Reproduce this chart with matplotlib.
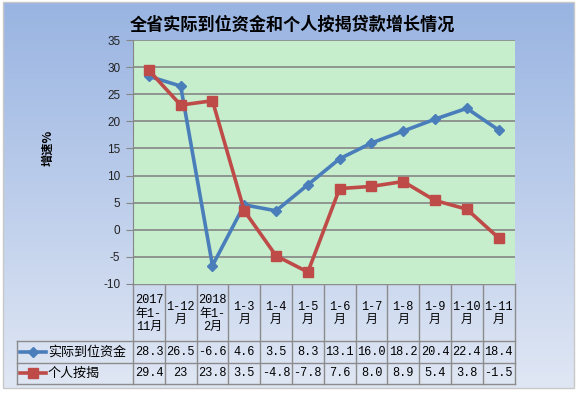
import numpy as np
import matplotlib
matplotlib.use("Agg")
import matplotlib.pyplot as plt
from matplotlib.lines import Line2D

plt.rcParams['font.family'] = ['Noto Sans CJK SC', 'DejaVu Sans']
plt.rcParams['axes.unicode_minus'] = False

title = "全省实际到位资金和个人按揭贷款增长情况"
ylabel = "增速%"
categories = ["2017\n年1-\n11月", "1-12\n月", "2018\n年1-\n2月", "1-3\n月", "1-4\n月", "1-5\n月",
              "1-6\n月", "1-7\n月", "1-8\n月", "1-9\n月", "1-10\n月", "1-11\n月"]
series_names = ["实际到位资金", "个人按揭"]
funds_txt = ["28.3", "26.5", "-6.6", "4.6", "3.5", "8.3", "13.1", "16.0", "18.2", "20.4", "22.4", "18.4"]
mortgage_txt = ["29.4", "23", "23.8", "3.5", "-4.8", "-7.8", "7.6", "8.0", "8.9", "5.4", "3.8", "-1.5"]
funds = [float(s) for s in funds_txt]
mortgage = [float(s) for s in mortgage_txt]
yticks = list(range(-10, 36, 5))

W, H = 579, 394
BLUE = "#4a7ebb"
RED = "#be4b48"
GRID = "#868686"
TFONT = ["Liberation Mono", "Noto Sans CJK SC"]

fig = plt.figure(figsize=(W / 100, H / 100), dpi=100)
fig.patch.set_facecolor("white")

# pixel-space overlay for background, table and text
bg = fig.add_axes([0, 0, 1, 1], zorder=0)
bg.set_xlim(0, W)
bg.set_ylim(H, 0)
bg.axis("off")
grad = np.linspace(0, 1, 256)[:, None]
cmap = matplotlib.colors.LinearSegmentedColormap.from_list("g", ["#99b4e2", "#e0e7f4"])
bg.imshow(grad, cmap=cmap, extent=(3, 574, 388, 2), aspect="auto", zorder=0)
bg.add_patch(plt.Rectangle((3, 2), 571, 386, fill=False, ec="#c8c8c8", lw=1))

L, R, T, B = 133, 514.5, 40, 284
ax = fig.add_axes([L / W, 1 - B / H, (R - L) / W, (B - T) / H], zorder=2)
ax.set_facecolor("#c6edcc")
x = np.arange(len(categories))
ax.set_xlim(-0.5, len(categories) - 0.5)
ax.set_ylim(-10, 35)
ax.set_yticks(yticks)
ax.set_yticklabels([str(v) for v in yticks], family="Liberation Sans", fontsize=8.5, color="#222222")
ax.set_xticks([])
ax.tick_params(axis="y", length=5, color=GRID, pad=4)
for v in yticks[1:]:
    ax.axhline(v, color=GRID, lw=1.2, zorder=1)
for s in ["right", "bottom", "top"]:
    ax.spines[s].set_visible(False)
ax.spines["left"].set_color(GRID)

ax.plot(x, funds, color=BLUE, lw=2.6, marker="D", ms=5, mfc=BLUE, mec=BLUE, zorder=3)
ax.plot(x, mortgage, color=RED, lw=2.6, marker="s", ms=7.5, mfc=RED, mec=RED, zorder=4)

fig.text(292 / W, 1 - 25 / H, title, ha="center", va="center", fontsize=12.3, fontweight="bold")
fig.text(48 / W, 1 - 148 / H, ylabel, ha="center", va="center", rotation=90, fontsize=8.8, fontweight="bold")

# data table under the chart
n = len(categories)
cw = (R - L) / n
rows = [B, 341, 362.5, 384]
lc = "#8c8c8c"
bg.plot([L, R], [B, B], color=lc, lw=1, zorder=3)
for yy in rows[1:]:
    bg.plot([17, R], [yy, yy], color=lc, lw=1, zorder=3)
bg.plot([17, 17], [rows[1], rows[3]], color=lc, lw=1, zorder=3)
for i in range(n + 1):
    bg.plot([L + i * cw, L + i * cw], [B, rows[3]], color=lc, lw=1, zorder=3)
for i, lab in enumerate(categories):
    bg.text(L + (i + 0.5) * cw, (rows[0] + rows[1]) / 2 + 1, lab, ha="center", va="center",
            family=TFONT, fontsize=8.6, linespacing=1.2, zorder=4)
for r, (txts, col, mk, ms, name) in enumerate([(funds_txt, BLUE, "D", 5, series_names[0]),
                                                (mortgage_txt, RED, "s", 7, series_names[1])]):
    yc = (rows[r + 1] + rows[r + 2]) / 2
    for i, t in enumerate(txts):
        bg.text(L + (i + 0.5) * cw, yc, t, ha="center", va="center", family=TFONT,
                fontsize=8.6, zorder=4)
    bg.add_line(Line2D([20, 46], [yc, yc], color=col, lw=2.6, zorder=4))
    bg.add_line(Line2D([33], [yc], color=col, marker=mk, ms=ms, zorder=5))
    bg.text(48, yc, name, ha="left", va="center", fontsize=9.4, zorder=4)

fig.savefig("out.png", dpi=100)
